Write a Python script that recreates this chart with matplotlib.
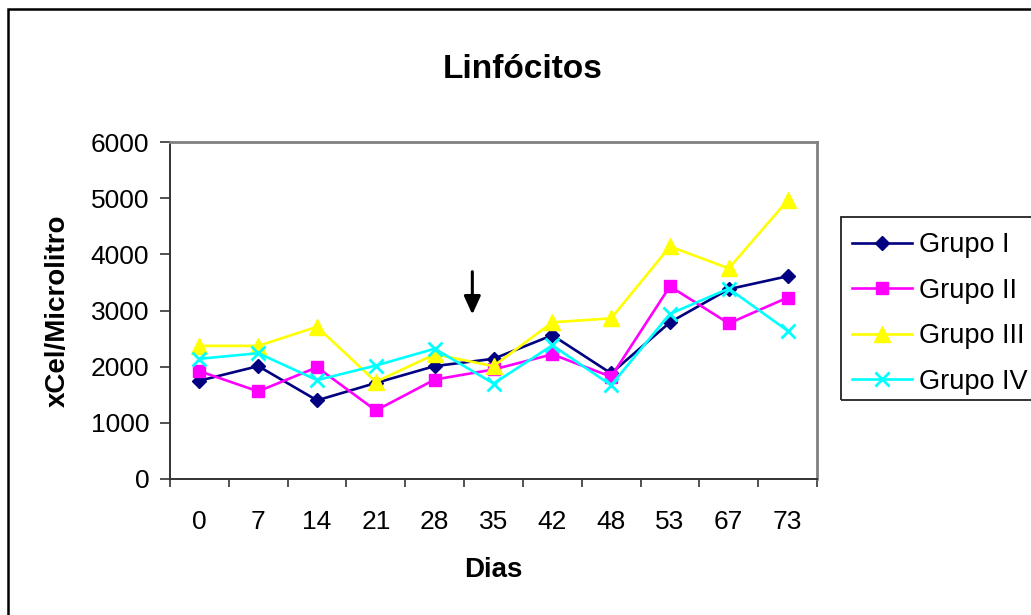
import matplotlib
matplotlib.use("Agg")
import matplotlib.pyplot as plt
from matplotlib.patches import Rectangle

dias = ["0", "7", "14", "21", "28", "35", "42", "48", "53", "67", "73"]
grupo_i = [1750, 2010, 1400, 1710, 2010, 2140, 2560, 1880, 2790, 3380, 3610]
grupo_ii = [1920, 1560, 1990, 1220, 1770, 1950, 2220, 1820, 3430, 2770, 3230]
grupo_iii = [2370, 2370, 2710, 1730, 2220, 2010, 2790, 2860, 4140, 3750, 4960]
grupo_iv = [2140, 2240, 1760, 2020, 2320, 1700, 2380, 1670, 2940, 3390, 2640]
series_names = ["Grupo I", "Grupo II", "Grupo III", "Grupo IV"]
arrow_x = 4.64
arrow_from, arrow_to = 3740, 2880

plt.rcParams['font.family'] = ['Liberation Sans', 'DejaVu Sans']

W, H = 1031, 615
fig = plt.figure(figsize=(W / 100, H / 100), dpi=100)
ax = fig.add_axes([170 / W, 1 - 479 / H, (817 - 170) / W, (479 - 142) / H])

x = list(range(len(dias)))
styles = [
    dict(color="#000080", marker="D", ms=7.5),
    dict(color="#FF00FF", marker="s", ms=8),
    dict(color="#FFFF00", marker="^", ms=11),
    dict(color="#00FFFF", marker="x", ms=10, mew=2),
]
handles = []
for vals, name, st in zip([grupo_i, grupo_ii, grupo_iii, grupo_iv], series_names, styles):
    h, = ax.plot(x, vals, lw=1.9, label=name, clip_on=False, **st)
    handles.append(h)

ax.set_xlim(-0.5, len(dias) - 0.5)
ax.set_ylim(0, 6000)
ax.set_yticks(range(0, 6001, 1000))
ax.set_xticks(x)
ax.set_xticklabels(dias)
ax.set_xticks([i - 0.5 for i in range(len(dias) + 1)], minor=True)
ax.tick_params(axis='x', which='major', length=0, pad=22, labelsize=19)
ax.tick_params(axis='x', which='minor', length=6, width=1.2, direction='out', color='#333333')
ax.tick_params(axis='y', length=7, width=1.2, direction='out', pad=8, labelsize=19, color='#333333')

for s in ['left', 'bottom']:
    ax.spines[s].set_color('#333333')
    ax.spines[s].set_linewidth(1.4)
for s in ['top', 'right']:
    ax.spines[s].set_color('#808080')
    ax.spines[s].set_linewidth(2)

ax.annotate("", xy=(arrow_x, arrow_to), xytext=(arrow_x, arrow_from),
            arrowprops=dict(arrowstyle="-|>,head_length=1.1,head_width=0.5", color="black", lw=2.2))

fig.text(523 / W, 1 - 70 / H, "Linfócitos", fontsize=24, fontweight='bold', ha='center', va='center')
fig.text(493 / W, 1 - 570 / H, "Dias", fontsize=20, fontweight='bold', ha='center', va='center')
fig.text(58 / W, 1 - 311 / H, "xCel/Microlitro", fontsize=20, fontweight='bold', ha='center', va='center', rotation=90)

leg = fig.legend(handles=handles, loc='upper left', bbox_to_anchor=(840 / W, 1 - 220 / H),
                 fontsize=19.5, frameon=False, handlelength=2.2,
                 handletextpad=0.25, labelspacing=0.72, borderpad=0.45, borderaxespad=0)
fig.patches.append(Rectangle((841 / W, 1 - 400 / H), 0.3, (400 - 217) / H, transform=fig.transFigure,
                             fill=False, edgecolor='#222222', lw=1.3, clip_on=False))

fig.patches.append(Rectangle((8 / W, -0.1), 1.2, 1.1 - 9 / H, transform=fig.transFigure,
                             fill=False, edgecolor='black', lw=1.8, clip_on=False))

fig.savefig("out.png", dpi=100)
